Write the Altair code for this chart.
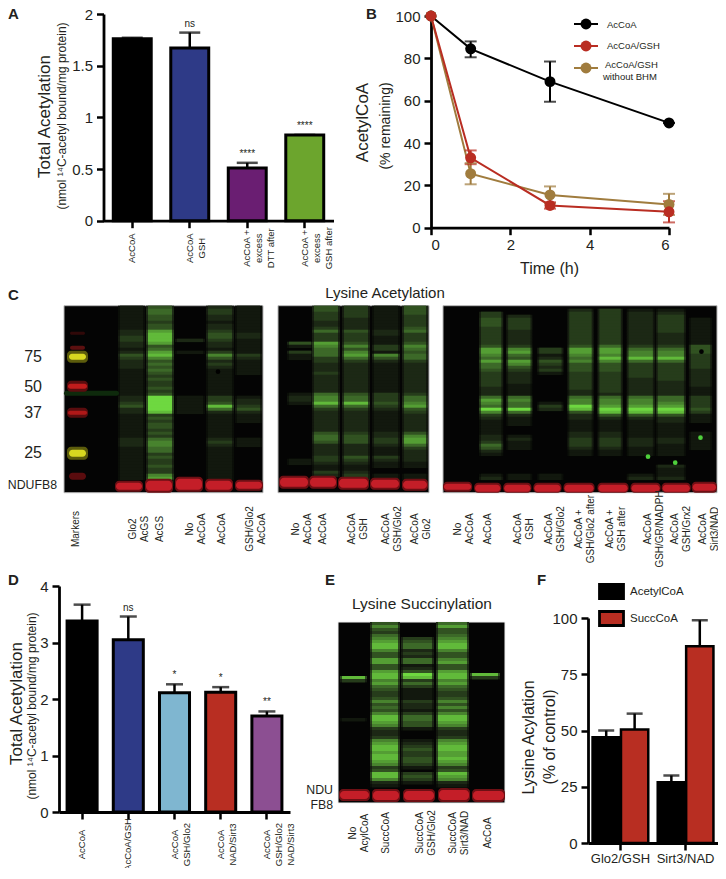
import altair as alt
import pandas as pd

FONT = "Liberation Sans"
INK = "#231f20"
W, H = 710, 860

# ---- Panel A
a_cats = ["AcCoA", "AcCoA|GSH", "AcCoA +|excess|DTT after", "AcCoA +|excess|GSH after"]
a_vals = [1.76, 1.67, 0.51, 0.83]
a_errs = [1.77, 1.82, 0.56, 0.83]
a_note = ["", "ns", "****", "****"]
a_cols = ["#000000", "#2e3a87", "#6a1e72", "#6ca52d"]

# ---- Panel B
b_series = ["AcCoA", "AcCoA/GSH", "AcCoA/GSH without BHM"]
b_cols = ["#000000", "#b92d22", "#a07c3e"]
b_time = [0, 1, 3, 6]
b_black = [100, 84.5, 69, 49.5]
b_black_lo = [100, 80.5, 59.5, 49.5]
b_black_hi = [100, 88, 78.5, 49.5]
b_red = [100, 33, 10.5, 7.5]
b_red_lo = [100, 30, 9, 2.5]
b_red_hi = [100, 36.5, 12, 12.5]
b_brown = [100, 25.5, 15.5, 11]
b_brown_lo = [100, 20.5, 11.5, 6]
b_brown_hi = [100, 30.5, 19.5, 16]

# ---- Panel D
d_cats = ["AcCoA", "AcCoA/GSH", "AcCoA|GSH/Glo2", "AcCoA|NAD/Sirt3", "AcCoA|GSH/Glo2|NAD/Sirt3"]
d_vals = [3.38, 3.05, 2.11, 2.12, 1.70]
d_errs = [3.67, 3.46, 2.26, 2.21, 1.78]
d_note = ["", "ns", "*", "*", "**"]
d_cols = ["#000000", "#2e3a87", "#7fb6d0", "#b82e22", "#8c4f92"]

# ---- Panel F
f_groups = ["Glo2/GSH", "Sirt3/NAD"]
f_series = ["AcetylCoA", "SuccCoA"]
f_cols = ["#000000", "#b82e22"]
f_acetyl = [47, 27]
f_acetyl_err = [50, 30]
f_succ = [50.5, 87.5]
f_succ_err = [57.5, 99]

# ---- Gels: lane extents along the gel and green intensity (0-9) down each lane
g1_labels = ["Markers", "Glo2|AcGS", "AcGS", "No|AcCoA", "AcCoA", "GSH/Glo2|AcCoA"]
g1_label_x = [12, 69, 96, 126, 158, 186]
g1_lanes = [(56, 79), (84, 108), (113, 139), (144, 168), (173, 196)]
g1_green = [
    "1111111122 3322124322 2111111111 2234221111 1111222111 111111110000",
    "4554434478 8874578645 4543433434 9999983434 4343566553 433433672100",
    "0000000000 0200010000 0000000000 1111110000 0000000000 000000000000",
    "2332212234 4322136423 2111111111 3348521111 1111232111 111111110000",
    "1111111112 2111113211 1110000000 1223421110 0000111000 000000000000",
]
g1_red = [(51, 79, 176, 185), (81, 109, 174, 186), (111, 139, 172, 185), (141, 169, 174, 185), (171, 199, 175, 184)]
g1_marks = [(0, 55, 85, 90, "#0e2a0c"),
            (3, 24, 45, 57, "#5c5c0c"), (3, 24, 141, 154, "#5c5c0c"),
            (3, 24, 75, 86, "#5a0c0e"), (3, 24, 102, 112, "#5a0c0e"),
            (5, 22, 48, 54, "#d8d820"), (4, 23, 78, 83, "#c01c1c"), (4, 23, 105, 109, "#b01818"),
            (5, 22, 144, 151, "#d8d820"), (5, 22, 167, 174, "#5a0c0e"), (6, 21, 40, 44, "#5c1010"),
            (6, 21, 26, 29, "#300808")]
g1_spots = [(154, 66, "#000000")]
mw_labels = ["75", "50", "37", "25"]
mw_rows = [51, 81, 107, 147]

g2_labels = ["No|AcCoA", "AcCoA", "AcCoA|GSH", "AcCoA|GSH/Glo2", "AcCoA|Glo2"]
g2_label_x = [18, 45, 74, 108, 137]
g2_lanes = [(11, 33), (36, 60), (66, 90), (96, 120), (126, 148)]
g2_green = [
    "0000000000 0041031100 0000000001 2210000000 0000000000 011000000000",
    "4433322353 3376555332 2232222225 6685322222 2245542222 332113200000",
    "3333222243 3346467532 2222222224 5585322222 2234442222 432112330000",
    "1111111122 1113316421 1111111113 3343211111 1122332111 321100110000",
    "4443333453 3346545532 2222222223 5567432222 2246775322 221100110000",
]
g2_red = [(1, 31, 171, 182), (31, 59, 171, 182), (60, 91, 172, 183), (92, 122, 173, 183), (124, 150, 174, 184)]

g3_labels = ["No|AcCoA", "AcCoA", "AcCoA|GSH", "AcCoA|GSH/Glo2", "AcCoA +|GSH/Glo2 after", "AcCoA +|GSH after",
             "AcCoA|GSH/GR/NADPH", "AcCoA|GSH/Grx2", "AcCoA|Sirt3/NAD"]
g3_label_x = [15, 46, 77, 109, 140, 172, 211, 239, 268]
g3_lanes = [(39, 60), (67, 90), (99, 122), (130, 153), (161, 183), (191, 216), (221, 248), (255, 275)]
g3_green = [
    "0033444333 3334776575 5433333222 5765963211 1112235421 000000120000",
    "0002333322 2223675476 4322221111 5655952111 0001211100 000000110000",
    "0000000000 0000331243 2310000000 0013200000 0000000000 000000110000",
    "0233333333 3334776564 4433333322 5669842211 1122333211 000000000000",
    "0333333333 3335776864 4433333332 5667984211 1122333211 000000000000",
    "0122222222 2223566853 3333222222 5667984211 1111222111 000000120000",
    "0123333332 2223566853 3333322222 5567984221 1111221111 000211120000",
    "0000111111 1114443333 3222222111 3333431110 0011111100 000000000000",
]
g3_red = [(0, 30, 177, 185), (32, 60, 178, 187), (62, 91, 178, 187), (93, 122, 178, 187), (124, 156, 178, 187),
          (159, 191, 178, 187), (193, 224, 178, 187), (225, 255, 178, 187), (256, 282, 177, 186)]
g3_spots = [(266, 46, "#000000"), (211, 151, "#4fd03c"), (239, 157, "#4fd03c"), (265, 132, "#4fd03c")]

e_labels = ["No|AcylCoA", "SuccCoA", "SuccCoA|GSH/Glo2", "SuccCoA|Sirt3/NAD", "AcCoA"]
e_label_x = [15, 48, 82, 115, 150]
e_lanes = [(4, 27), (34, 60), (65, 94), (100, 129), (134, 160)]
e_green = [
    "0000000000 0000000083 0000000000 0010000000 0000000000 0000000000",
    "4643567886 4477447886 7543346454 6887632236 7887887634 8862100000",
    "0000034552 3255124983 5311113221 3554410001 2343344310 3431000000",
    "5744567886 4467447886 7543346464 6887632236 7887787634 8762100000",
    "0000000000 0000000830 0000000000 0000000000 0000000000 0000000000",
]
e_red = [(1, 32, 168, 178), (34, 62, 168, 179), (65, 97, 168, 179), (100, 132, 167, 179), (134, 167, 168, 179)]


AXIS = dict(orient="left", domainWidth=2.8, domainColor="black", tickWidth=2.5, tickColor="black", tickSize=7,
            labelFontSize=15, labelColor=INK, grid=False, titleColor=INK, titleFontWeight="normal",
            titleAngle=270, titleAlign="center", titleBaseline="middle", labelFont=FONT, titleFont=FONT, labelPadding=4)
XAXIS = dict(orient="bottom", domainWidth=2.8, domainColor="black", tickWidth=2.5, tickColor="black", tickSize=7,
             labelColor=INK, grid=False, labelFont=FONT)


def note(text, x, y, size=12, angle=0, weight="normal", align="center"):
    """Text placed in reference-picture pixels (the page adds its own 8 px margin)."""
    return alt.Chart(pd.DataFrame({"t": [text]})).mark_text(
        font=FONT, fontSize=size, angle=angle, fontWeight=weight, align=align, baseline="middle", color=INK
    ).encode(x=alt.value(x - 8), y=alt.value(y - 8), text="t:N")


def letter(text, x, y):
    return note(text, x, y, size=15, weight="bold", align="left")


def bar_panel(cats, vals, errs, notes, cols, dom, ticks, x0, x1, ytop, ybot, pad_i, pad_o, cap, label_pad, title, tx, ty):
    df = pd.DataFrame({"c": cats, "v": vals, "e": errs, "n": notes, "col": cols})
    x = alt.X("c:N", sort=cats, scale=alt.Scale(domain=cats, paddingInner=pad_i, paddingOuter=pad_o, range=[x0 - 8, x1 - 8]),
              axis=alt.Axis(title=None, labelAngle=270, labelAlign="center", labelBaseline="middle",
                            labelExpr="split(datum.label, '|')", labelPadding=label_pad, labelFontSize=9.5,
                            labelLineHeight=12, labelLimit=0, labelOverlap=False, offset=ybot - 8 - H, **XAXIS))
    y = alt.Y("v:Q", scale=alt.Scale(domain=dom, nice=False, range=[ybot - 8, ytop - 8]),
              axis=alt.Axis(title=title, titleX=tx - x0, titleY=ty - 8, titleFontSize=17, values=ticks, format="~g",
                            offset=-(x0 - 8), **AXIS))
    bars = alt.Chart(df).mark_bar(stroke="black", strokeWidth=3).encode(
        x=x, y=y, fill=alt.Fill("col:N", scale=None))
    rule = alt.Chart(df).mark_rule(color="black", strokeWidth=2.5).encode(
        x=alt.X("c:N", sort=cats), y=alt.Y("v:Q"), y2="e:Q")
    tick = alt.Chart(df).mark_tick(color="black", thickness=2.5, size=cap, orient="horizontal").encode(
        x=alt.X("c:N", sort=cats), y=alt.Y("e:Q"))
    txt = alt.Chart(df[df.n != ""]).mark_text(font=FONT, fontSize=10, dy=-9, color=INK, baseline="middle").encode(
        x=alt.X("c:N", sort=cats), y=alt.Y("e:Q"), text="n:N")
    return [rule, tick, bars, txt]


# Panel A
A = alt.layer(
    *bar_panel(a_cats, a_vals, a_errs, a_note, a_cols, [0, 2], [0, 0.5, 1, 1.5, 2], 103.5, 333.5, 14, 220.7,
               0.34, 0.17, 21, 20, "Total Acetylation", 44, 116),
    note("(nmol \u00b9\u2074C-acetyl bound/mg protein)", 62, 116, size=12, angle=270),
    letter("A", 8, 14),
)

# Panel B
rows = []
for s, ys, lo, hi in [(b_series[0], b_black, b_black_lo, b_black_hi),
                      (b_series[2], b_brown, b_brown_lo, b_brown_hi),
                      (b_series[1], b_red, b_red_lo, b_red_hi)]:
    for t, v, l, u in zip(b_time, ys, lo, hi):
        rows.append({"s": s, "t": t, "v": v, "l": l, "u": u})
bdf = pd.DataFrame(rows)
bX0, bX1, bTop, bBot = 431, 669, 16, 227.7
bx = alt.X("t:Q", scale=alt.Scale(domain=[0, 6], nice=False, padding=0, range=[bX0 - 8, bX1 - 8]),
           axis=alt.Axis(title="Time (h)", values=[0, 2, 4, 6], format="d", titleFontSize=16, titleColor=INK, titleFontWeight="normal",
                         titleFont=FONT, titleBaseline="middle", titleX=549 - 8, titleY=41, labelFontSize=15, labelPadding=3,
                         offset=bBot - 8 - H, **XAXIS))
by = alt.Y("v:Q", scale=alt.Scale(domain=[0, 100], nice=False, padding=0, range=[bBot - 8, bTop - 8]),
           axis=alt.Axis(title="AcetylCoA", titleX=362 - bX0, titleY=122 - 8, titleFontSize=17, values=[0, 20, 40, 60, 80, 100],
                         format="d", offset=-(bX0 - 8), **AXIS))
bscale = alt.Scale(domain=b_series, range=b_cols)
bcolor = alt.Color("s:N", scale=bscale, legend=None)
b_line = alt.Chart(bdf).mark_line(strokeWidth=2).encode(x=bx, y=by, color=bcolor, detail="s:N")
b_rule = alt.Chart(bdf).mark_rule(strokeWidth=2).encode(x="t:Q", y=alt.Y("l:Q"), y2="u:Q", color=bcolor)
capdf = bdf[bdf.t.isin([1, 3, 6])]
b_cap1 = alt.Chart(capdf).mark_tick(thickness=2, size=12, orient="horizontal").encode(x="t:Q", y=alt.Y("l:Q"), color=bcolor)
b_cap2 = alt.Chart(capdf).mark_tick(thickness=2, size=12, orient="horizontal").encode(x="t:Q", y=alt.Y("u:Q"), color=bcolor)
b_pts = alt.Chart(bdf).mark_point(filled=True, size=120, opacity=1).encode(x="t:Q", y="v:Q", color=bcolor)


def key(colour, y):
    """One legend symbol: a short line through a dot."""
    one = pd.DataFrame({"k": [0]})
    line = alt.Chart(one).mark_rule(color=colour, strokeWidth=2).encode(
        x=alt.value(574 - 8), x2=alt.value(598 - 8), y=alt.value(y - 8))
    dot = alt.Chart(one).mark_point(filled=True, color=colour, size=120, opacity=1).encode(
        x=alt.value(586 - 8), y=alt.value(y - 8))
    return [line, dot]


B = alt.layer(
    b_line, b_rule, b_cap1, b_cap2, b_pts,
    note("(% remaining)", 386, 126, size=14, angle=270),
    *key(b_cols[0], 24), note("AcCoA", 607, 25, size=9.5, align="left"),
    *key(b_cols[1], 46), note("AcCoA/GSH", 607, 46, size=9.5, align="left"),
    *key(b_cols[2], 68), note("AcCoA/GSH", 605, 65, size=9.5, align="left"),
    note("without BHM", 603, 77, size=9.5, align="left"),
    letter("B", 366, 14),
)


def lane_frame(lanes, strings):
    out = []
    for (x0, x1), s in zip(lanes, strings):
        digits = s.replace(" ", "")
        for r, ch in enumerate(digits):
            d = int(ch)
            if d:
                out.append({"x0": x0 - 2, "x1": x1 + 2, "y0": r * 3, "y1": r * 3 + 3.4, "v": d * 0.45})
    for (x0, x1), s in zip(lanes, strings):
        digits = s.replace(" ", "")
        for r, ch in enumerate(digits):
            d = int(ch)
            if d:
                out.append({"x0": x0, "x1": x1, "y0": r * 3, "y1": r * 3 + 3.4, "v": d})
    return pd.DataFrame(out)


def gel(lanes, strings, reds, labels, label_x, left, top, w, gel_h, label_y, marks=(), spots=(), border="#b8b8b8", extra=(), draw_w=None):
    xs = alt.Scale(domain=[0, w], nice=False, zero=False, range=[left - 8, left - 8 + (draw_w or w)])
    ys = alt.Scale(domain=[0, gel_h], nice=False, zero=False, range=[top - 8, top - 8 + gel_h])
    bg = alt.Chart(pd.DataFrame({"a": [0], "b": [w], "c": [0], "d": [gel_h]})).mark_rect(
        color="#040404", stroke=border, strokeWidth=1).encode(
        x=alt.X("a:Q", scale=xs, axis=None), x2="b:Q", y=alt.Y("c:Q", scale=ys, axis=None), y2="d:Q")
    green = alt.Chart(lane_frame(lanes, strings)).mark_rect().encode(
        x=alt.X("x0:Q", scale=xs, axis=None), x2="x1:Q", y=alt.Y("y0:Q", scale=ys, axis=None), y2="y1:Q",
        fill=alt.Fill("v:Q", scale=alt.Scale(type="pow", exponent=1.15, domain=[0, 9], range=["#040404", "#6ed840"]), legend=None))
    layers = [bg, green]
    band_rows = [{"x0": a, "x1": b, "y0": c, "y1": d, "c": e} for a, b, c, d, e in marks]
    red_soft = [{"x0": a, "x1": b, "y0": c - 1, "y1": min(d + 1, gel_h), "c": "#6e0f14"} for a, b, c, d in reds]
    red_core = [{"x0": a + 1, "x1": b - 1, "y0": c + 1, "y1": d - 1, "c": "#c41e28"} for a, b, c, d in reds]
    bands = pd.DataFrame(band_rows + red_soft + red_core)
    layers.append(alt.Chart(bands).mark_rect(cornerRadius=4).encode(
        x=alt.X("x0:Q", scale=xs, axis=None), x2="x1:Q", y=alt.Y("y0:Q", scale=ys, axis=None), y2="y1:Q",
        color=alt.Color("c:N", scale=None)))
    if len(spots):
        sp = pd.DataFrame(spots, columns=["x", "y", "c"])
        layers.append(alt.Chart(sp).mark_circle(opacity=1, size=22).encode(
            x=alt.X("x:Q", scale=xs, axis=None), y=alt.Y("y:Q", scale=ys, axis=None), color=alt.Color("c:N", scale=None)))
    lab = pd.DataFrame({"x": label_x, "t": labels})
    layers.append(alt.Chart(lab).mark_text(font=FONT, fontSize=10, angle=270, align="center", baseline="middle",
                                           lineBreak="|", lineHeight=12, color=INK).encode(
        x=alt.X("x:Q", scale=xs, axis=None), y=alt.value(label_y - 8), text="t:N"))
    layers.extend(extra)
    return alt.layer(*layers)


mw = alt.Chart(pd.DataFrame({"t": mw_labels, "y": mw_rows})).mark_text(
    font=FONT, fontSize=16, align="right", baseline="middle", color=INK).encode(
    x=alt.value(42 - 8),
    y=alt.Y("y:Q", scale=alt.Scale(domain=[0, 187], nice=False, zero=False, range=[305.7 - 8, 305.7 - 8 + 187]), axis=None),
    text="t:N")

G1 = gel(g1_lanes, g1_green, g1_red, g1_labels, g1_label_x, 64, 305.7, 199, 187, 529, marks=g1_marks, spots=g1_spots,
         extra=[mw, note("NDUFB8", 57, 485, size=12.3, align="right"), letter("C", 8, 295)])
G2 = gel(g2_lanes, g2_green, g2_red, g2_labels, g2_label_x, 278, 305.7, 151, 187, 529,
         extra=[note("Lysine Acetylation", 385, 293, size=15)])
G3 = gel(g3_lanes, g3_green, g3_red, g3_labels, g3_label_x, 443, 305.7, 282, 187, 529, spots=g3_spots, draw_w=274)

# Panel D
D = alt.layer(
    *bar_panel(d_cats, d_vals, d_errs, d_note, d_cols, [0, 4], [0, 1, 2, 3, 4], 59, 290, 586, 812,
               0.35, 0.175, 17, 25, "Total Acetylation", 16.5, 703),
    note("(nmol \u00b9\u2074C-acetyl bound/mg protein)", 31.5, 706, size=12, angle=270),
    letter("D", 8, 580),
)

# Panel E
E = gel(e_lanes, e_green, e_red, e_labels, e_label_x, 338, 622, 167, 181, 833, border="#f0f0f0",
        extra=[note("Lysine Succinylation", 422, 604, size=15.5),
               note("NDU", 333, 790, size=12.3, align="right"), note("FB8", 333, 805, size=12.3, align="right"),
               letter("E", 325, 580)])

# Panel F
fdf = pd.DataFrame({
    "g": f_groups * 2,
    "s": [f_series[0]] * 2 + [f_series[1]] * 2,
    "v": f_acetyl + f_succ,
    "e": f_acetyl_err + f_succ_err,
})
fX0, fX1, fTop, fBot = 588, 718, 618, 843
fx = alt.X("g:N", sort=f_groups, scale=alt.Scale(domain=f_groups, paddingInner=0.145, paddingOuter=0.07, range=[fX0 - 8, fX1 - 8]),
           axis=alt.Axis(title=None, labelAngle=0, labelAlign="center", labelBaseline="top", labelFontSize=13, labelPadding=2,
                         labelLimit=0, offset=fBot - 8 - H, **XAXIS))
fy = alt.Y("v:Q", scale=alt.Scale(domain=[0, 100], nice=False, range=[fBot - 8, fTop - 8]),
           axis=alt.Axis(title="Lysine Acylation", titleX=528 - fX0, titleY=737 - 8, titleFontSize=16,
                         values=[0, 25, 50, 75, 100], offset=-(fX0 - 8), **AXIS))
foff = alt.XOffset("s:N", sort=f_series, scale=alt.Scale(domain=f_series, paddingInner=0.04))
BOX = "M-2,-1.17H2V1.17H-2Z"
f_bars = alt.Chart(fdf).mark_bar(stroke="black", strokeWidth=2.5).encode(
    x=fx, y=fy, xOffset=foff,
    fill=alt.Fill("s:N", scale=alt.Scale(domain=f_series, range=f_cols), legend=alt.Legend(
        title=None, orient="none", legendX=596, legendY=576, symbolType=BOX, symbolSize=144,
        symbolStrokeColor="black", symbolStrokeWidth=2.8, labelFontSize=11.5, labelFont=FONT, labelColor=INK,
        labelOffset=11, rowPadding=0)))
f_rule = alt.Chart(fdf).mark_rule(color="black", strokeWidth=2.5).encode(
    x=alt.X("g:N", sort=f_groups), xOffset=foff, y="v:Q", y2="e:Q")
f_tick = alt.Chart(fdf).mark_tick(color="black", thickness=2.5, size=16, orient="horizontal").encode(
    x=alt.X("g:N", sort=f_groups), xOffset=foff, y="e:Q")
F = alt.layer(
    f_rule, f_tick, f_bars,
    note("(% of control)", 550, 737, size=16, angle=270),
    letter("F", 537, 580),
)

chart = alt.layer(A, B, G1, G2, G3, D, E, F).resolve_scale(
    x="independent", y="independent", fill="independent", color="independent", xOffset="independent"
).resolve_axis(x="independent", y="independent").properties(
    width=W, height=H, padding=0, background="white", autosize=alt.AutoSizeParams(type="none"))
chart = chart.configure(font=FONT).configure_view(stroke=None)
chart.save("out.html", embed_options={"renderer": "svg", "actions": False})
